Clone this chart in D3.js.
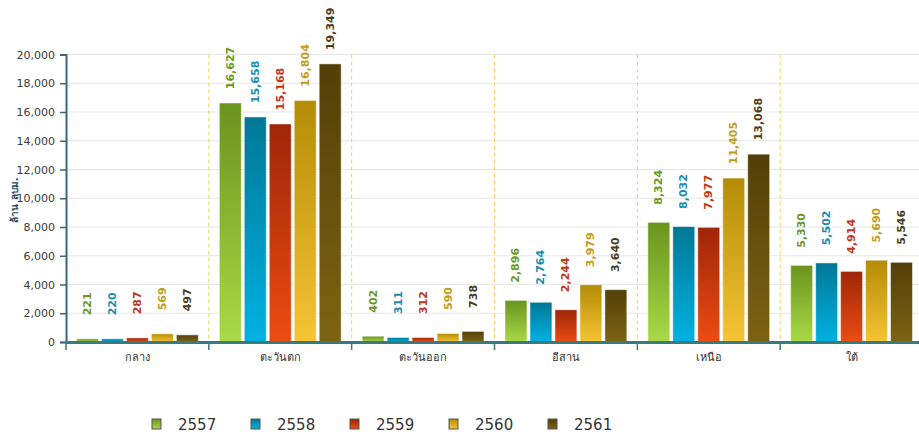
<!DOCTYPE html>
<html>
<head>
<meta charset="utf-8">
<script src="https://cdn.jsdelivr.net/npm/d3@7"></script>
<style>
  body { margin: 0; background: #fff; }
  svg { display: block; font-family: "DejaVu Sans", "Noto Sans", sans-serif; }
</style>
</head>
<body>
<div id="chart"></div>
<script>
// data
const regions = ["กลาง", "ตะวันตก", "ตะวันออก", "อีสาน", "เหนือ", "ใต้"];
const years = ["2557", "2558", "2559", "2560", "2561"];
const v2557 = [221, 16627, 402, 2896, 8324, 5330];
const v2558 = [220, 15658, 311, 2764, 8032, 5502];
const v2559 = [287, 15168, 312, 2244, 7977, 4914];
const v2560 = [569, 16804, 590, 3979, 11405, 5690];
const v2561 = [497, 19349, 738, 3640, 13068, 5546];
const yTicks = [0, 2000, 4000, 6000, 8000, 10000, 12000, 14000, 16000, 18000, 20000];
const yTitle = "ล้าน ลบม.";

const seriesValues = [v2557, v2558, v2559, v2560, v2561];

// top / bottom gradient colours + label colour per year
const palette = [
  { top: "#6a941d", bottom: "#a9da47", label: "#6a981f" },
  { top: "#007896", bottom: "#00b2e2", label: "#1a8db3" },
  { top: "#9e2608", bottom: "#ec4c12", label: "#bd3718" },
  { top: "#b48c06", bottom: "#f6c434", label: "#c29c16" },
  { top: "#533f08", bottom: "#7c6412", label: "#4a3c18" }
];

const W = 919, H = 434;
const plotLeft = 66, plotRight = 923, plotTop = 54.5, plotBottom = 342;

const svg = d3.select("#chart").append("svg")
  .attr("width", W)
  .attr("height", H);

const defs = svg.append("defs");
palette.forEach((p, i) => {
  const g = defs.append("linearGradient")
    .attr("id", "grad" + i)
    .attr("x1", 0).attr("y1", 0).attr("x2", 0).attr("y2", 1);
  g.append("stop").attr("offset", "0%").attr("stop-color", p.top);
  g.append("stop").attr("offset", "100%").attr("stop-color", p.bottom);
});

const x = d3.scaleBand().domain(regions).range([plotLeft, plotRight]).padding(0);
const step = x.step();
const xInner = d3.scaleBand().domain(years)
  .range([10.5, step - 10.5])
  .paddingInner(0.12)
  .paddingOuter(0);
const y = d3.scaleLinear().domain([0, 20000]).range([plotBottom, plotTop]);

// gridlines
svg.append("g")
  .selectAll("line")
  .data(yTicks.filter(d => d > 0))
  .join("line")
  .attr("x1", plotLeft).attr("x2", plotRight)
  .attr("y1", d => y(d)).attr("y2", d => y(d))
  .attr("stroke", "#e6e6e6")
  .attr("stroke-width", 1);

// dashed separators between regions
svg.append("g")
  .selectAll("line")
  .data(regions.slice(1))
  .join("line")
  .attr("x1", d => x(d)).attr("x2", d => x(d))
  .attr("y1", y(20000)).attr("y2", plotBottom)
  .attr("stroke", "#f7cf55")
  .attr("stroke-width", 1)
  .attr("stroke-dasharray", "4,3");

// bars
const groups = svg.append("g")
  .selectAll("g")
  .data(regions)
  .join("g")
  .attr("transform", d => `translate(${x(d)},0)`);

const cells = groups.selectAll("g")
  .data((r, ri) => years.map((yr, si) => ({ yr, si, value: seriesValues[si][ri] })))
  .join("g");

cells.append("rect")
  .attr("x", d => xInner(d.yr))
  .attr("width", xInner.bandwidth())
  .attr("y", d => y(d.value))
  .attr("height", d => plotBottom - y(d.value))
  .attr("fill", d => `url(#grad${d.si})`)
  .attr("stroke", "#ffffff")
  .attr("stroke-opacity", 0.5)
  .attr("stroke-width", 1);

const fmt = d3.format(",");
cells.append("text")
  .attr("transform", d => `translate(${xInner(d.yr) + xInner.bandwidth() / 2},${y(d.value) - 35}) rotate(-90)`)
  .attr("text-anchor", "middle")
  .attr("dominant-baseline", "central")
  .attr("fill", d => palette[d.si].label)
  .style("font-size", "11px")
  .style("font-weight", "bold")
  .text(d => fmt(d.value));

// y axis
const yAxis = svg.append("g")
  .attr("transform", `translate(${plotLeft},0)`)
  .call(d3.axisLeft(y).tickValues(yTicks).tickFormat(fmt).tickSize(6).tickPadding(5));
yAxis.select(".domain").attr("stroke", "#3e6677").attr("stroke-width", 2);
yAxis.selectAll(".tick line").attr("stroke", "#3e6677").attr("stroke-width", 1.5);
yAxis.selectAll(".tick text").attr("fill", "#3a3a3a").style("font-size", "11px")
  .style("font-family", "'DejaVu Sans', sans-serif");

// x axis
const xAxis = svg.append("g")
  .attr("transform", `translate(0,${plotBottom})`)
  .call(d3.axisBottom(x).tickSize(0).tickPadding(11));
xAxis.select(".domain").attr("stroke", "#3a7a7f").attr("stroke-width", 3);
xAxis.selectAll(".tick text").attr("fill", "#333").style("font-size", "11px")
  .style("font-family", "'DejaVu Sans', 'Noto Sans', sans-serif");
xAxis.append("g")
  .selectAll("line")
  .data(regions)
  .join("line")
  .attr("x1", d => x(d)).attr("x2", d => x(d))
  .attr("y1", 0).attr("y2", 8)
  .attr("stroke", "#3a7a7f")
  .attr("stroke-width", 1.5);

// y title
svg.append("text")
  .attr("transform", `translate(14,200) rotate(-90)`)
  .attr("text-anchor", "middle")
  .attr("dominant-baseline", "central")
  .attr("fill", "#2c4a5a")
  .style("font-size", "10px")
  .style("font-weight", "bold")
  .text(yTitle);

// legend
const legend = svg.append("g")
  .selectAll("g")
  .data(years)
  .join("g")
  .attr("transform", (d, i) => `translate(${152 + i * 99},419)`);

legend.append("rect")
  .attr("width", 9).attr("height", 10)
  .attr("fill", (d, i) => `url(#grad${i})`)
  .attr("stroke", "#555")
  .attr("stroke-width", 1);

legend.append("text")
  .attr("x", 26)
  .attr("y", 10.5)
  .attr("fill", "#333")
  .style("font-size", "15px")
  .text(d => d);
</script>
</body>
</html>
